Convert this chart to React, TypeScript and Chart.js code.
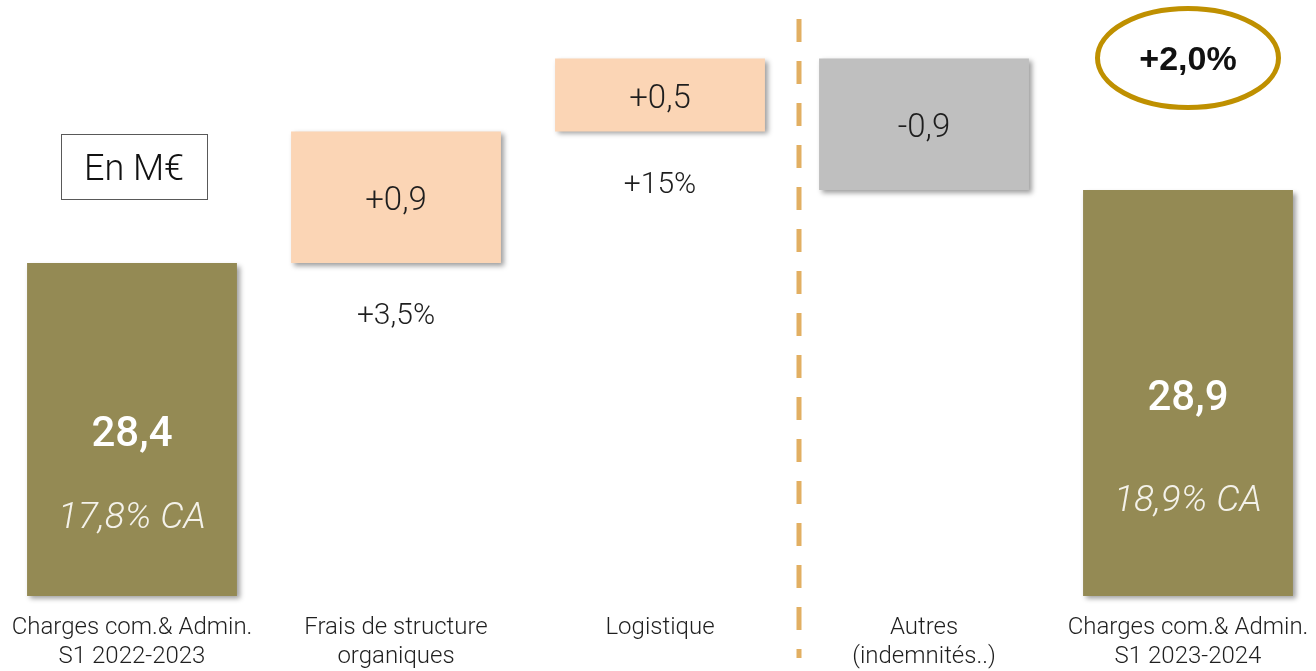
import React, { useEffect, useRef } from 'react';
import { Chart, registerables } from 'chart.js';

Chart.register(...registerables);

// ---- Data ----
const categories: string[][] = [
  ['Charges com.& Admin.', 'S1 2022-2023'],
  ['Frais de structure', 'organiques'],
  ['Logistique'],
  ['Autres', '(indemnités..)'],
  ['Charges com.& Admin.', 'S1 2023-2024'],
];
const openingTotal = 28.4;
const changes = [0.9, 0.5, -0.9];
const closingTotal = 28.9;
const valueLabels = ['28,4', '+0,9', '+0,5', '-0,9', '28,9'];
const shareLabels = ['17,8% CA', '', '', '', '18,9% CA'];
const growthLabels = ['', '+3,5%', '+15%', '', ''];
const unitLabel = 'En M€';
const totalGrowthLabel = '+2,0%';

const AXIS_MIN = 26.12;
const AXIS_MAX = 30.2;

const OLIVE = '#948A54';
const PEACH = '#FBD5B5';
const GREY = '#BFBFBF';
const FONT = 'Roboto, "Noto Sans", sans-serif';
const TEXT_SHIFT = 4;

function buildRanges(): number[][] {
  const ranges: number[][] = [[AXIS_MIN, openingTotal]];
  let level = openingTotal;
  changes.forEach((c) => {
    const next = Math.round((level + c) * 10) / 10;
    ranges.push([level, next]);
    level = next;
  });
  ranges.push([AXIS_MIN, closingTotal]);
  return ranges;
}

const overlayPlugin = {
  id: 'overlay',
  beforeDatasetsDraw(chart: any) {
    const ctx = chart.ctx;
    ctx.save();
    ctx.shadowColor = 'rgba(0,0,0,0.38)';
    ctx.shadowBlur = 5;
    ctx.shadowOffsetX = 3;
    ctx.shadowOffsetY = 3;
  },
  afterDatasetsDraw(chart: any) {
    const ctx = chart.ctx;
    ctx.restore();
    const meta = chart.getDatasetMeta(0);
    const last = meta.data.length - 1;
    ctx.save();
    ctx.textAlign = 'center';
    ctx.textBaseline = 'middle';
    meta.data.forEach((bar: any, i: number) => {
      const { x, y, base } = bar.getProps(['x', 'y', 'base'], true);
      const top = Math.min(y, base);
      const bottom = Math.max(y, base);
      const h = bottom - top;
      const isTotal = i === 0 || i === last;
      if (isTotal) {
        ctx.fillStyle = '#FFFFFF';
        ctx.font = `500 42px ${FONT}`;
        ctx.fillText(valueLabels[i], x, top + h * 0.507 + TEXT_SHIFT);
        if (shareLabels[i]) {
          ctx.font = `italic 300 37px ${FONT}`;
          ctx.fillStyle = '#F4F2EA';
          ctx.fillText(shareLabels[i], x, top + h * 0.757 + TEXT_SHIFT);
        }
      } else {
        ctx.fillStyle = '#1E1E1E';
        ctx.font = `300 33px ${FONT}`;
        ctx.fillText(valueLabels[i], x, top + h / 2 + TEXT_SHIFT + 1);
      }
      if (growthLabels[i]) {
        ctx.fillStyle = '#1E1E1E';
        ctx.font = `300 30px ${FONT}`;
        ctx.fillText(growthLabels[i], x, bottom + 50 + TEXT_SHIFT);
      }
    });
    ctx.restore();
  },
  afterDraw(chart: any) {
    const ctx = chart.ctx;
    const xs = chart.scales.x;
    ctx.save();
    // dashed separator
    const sepX = (xs.getPixelForValue(2) + xs.getPixelForValue(3)) / 2 + 7;
    ctx.strokeStyle = '#E2AF62';
    ctx.lineWidth = 5;
    ctx.setLineDash([23, 19]);
    ctx.beginPath();
    ctx.moveTo(sepX, 19);
    ctx.lineTo(sepX, 658);
    ctx.stroke();
    ctx.setLineDash([]);

    // unit box
    const bx = xs.getPixelForValue(0) + 2;
    ctx.strokeStyle = '#595959';
    ctx.lineWidth = 1;
    ctx.strokeRect(Math.round(bx - 73) + 0.5, 134.5, 146, 65);
    ctx.fillStyle = '#111111';
    ctx.font = `300 36px ${FONT}`;
    ctx.textAlign = 'center';
    ctx.textBaseline = 'middle';
    ctx.fillText(unitLabel, bx, 167 + TEXT_SHIFT);

    // total growth ellipse
    const ex = xs.getPixelForValue(4);
    ctx.strokeStyle = '#BF9000';
    ctx.lineWidth = 5;
    ctx.beginPath();
    ctx.ellipse(ex, 58, 90.5, 49.5, 0, 0, Math.PI * 2);
    ctx.stroke();
    ctx.fillStyle = '#111111';
    ctx.font = `bold 34px "Liberation Sans", Arial, sans-serif`;
    ctx.fillText(totalGrowthLabel, ex, 61);
    ctx.restore();
  },
};

export default function App() {
  const canvasRef = useRef<HTMLCanvasElement | null>(null);

  useEffect(() => {
    if (!canvasRef.current) return;
    const ranges = buildRanges();
    const colors = ranges.map((_, i) => {
      if (i === 0 || i === ranges.length - 1) return OLIVE;
      return changes[i - 1] >= 0 ? PEACH : GREY;
    });
    const chart = new Chart(canvasRef.current, {
      type: 'bar',
      data: {
        labels: categories,
        datasets: [
          {
            data: ranges as any,
            backgroundColor: colors,
            borderWidth: 0,
            borderSkipped: false,
            barPercentage: 0.795,
            categoryPercentage: 1,
            clip: false as any,
          },
        ],
      },
      options: {
        animation: false,
        responsive: false,
        maintainAspectRatio: false,
        layout: { padding: { left: 0, right: 0, top: 0, bottom: 0 } },
        plugins: {
          legend: { display: false },
          tooltip: { enabled: false },
        },
        scales: {
          x: {
            grid: { display: false, drawTicks: false },
            border: { display: false },
            ticks: {
              color: '#1F1F1F',
              padding: 18,
              maxRotation: 0,
              autoSkip: false,
              font: { family: FONT, size: 24, weight: '300' as any, lineHeight: 1.2 },
            },
            afterFit: (scale: any) => {
              scale.height = 75;
              scale.paddingLeft = 0;
              scale.paddingRight = 0;
            },
          },
          y: {
            display: false,
            min: AXIS_MIN,
            max: AXIS_MAX,
          },
        },
      },
      plugins: [overlayPlugin],
    });
    return () => chart.destroy();
  }, []);

  return (
    <div style={{ position: 'fixed', left: 0, top: 0, width: 1316, height: 671, overflow: 'hidden', background: '#FFFFFF' }}>
      <canvas ref={canvasRef} width={1320} height={671} style={{ width: 1320, height: 671, display: 'block' }} />
    </div>
  );
}
